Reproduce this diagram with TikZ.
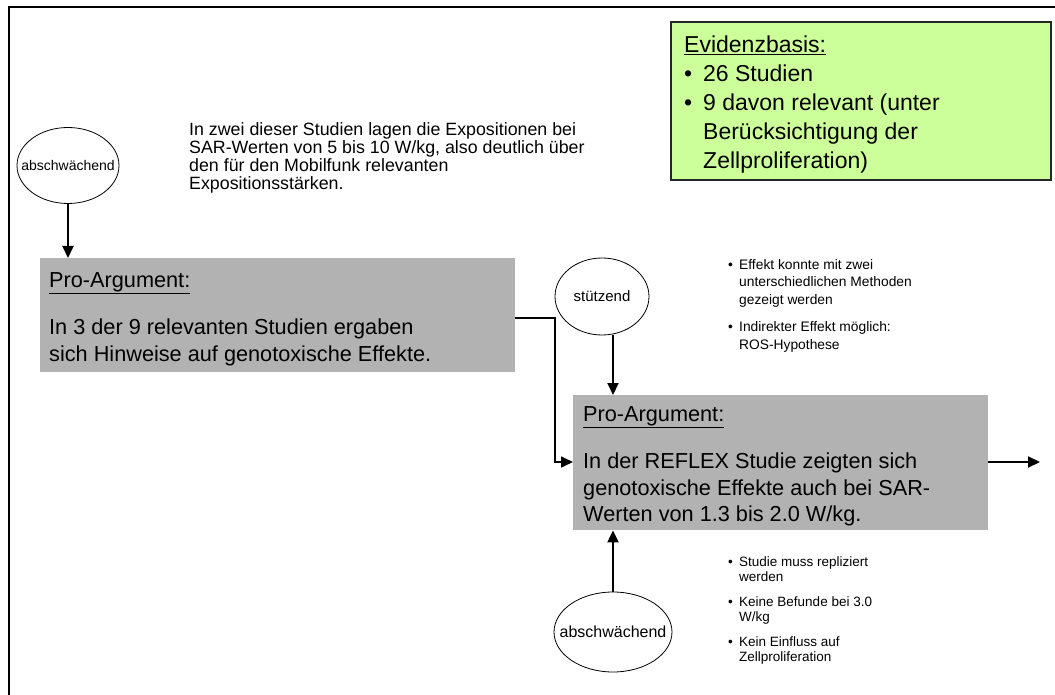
\documentclass[tikz,border=0pt]{standalone}
\usepackage{fontspec}
\setmainfont{Liberation Sans}
\usetikzlibrary{arrows.meta,shapes.geometric,calc}
\definecolor{boxgray}{RGB}{178,178,178}
\definecolor{evgreen}{RGB}{204,255,153}
\tikzset{
  graybox/.style={fill=boxgray, draw=none, inner sep=0, anchor=north west},
  argtext/.style={font=\fontsize{21.7}{26.5}\selectfont, align=left, inner sep=0, anchor=north west},
  oval/.style={ellipse, draw, line width=0.8pt, inner xsep=-40pt, inner ysep=0pt,
               font=\fontsize{15}{17}\selectfont},
  note/.style={font=\fontsize{17.8}{18}\selectfont, align=left, inner sep=0, anchor=north west},
  bullets/.style={font=\fontsize{13.8}{17.5}\selectfont, align=left, inner sep=0, anchor=north west},
  flow/.style={line width=2pt, -{Triangle[length=12pt,width=11pt]}},
}
\newcommand{\bul}{\makebox[11pt][l]{\textbullet}}
\newcommand{\ind}{\hspace*{11pt}}
\begin{document}
\begin{tikzpicture}[x=1pt,y=-1pt]
\useasboundingbox (0,0) rectangle (1055,695);

% outer frame (left and top edges)
\draw[line width=2.6pt] (9,695) -- (9,7) -- (1055,7);

% evidence box
\node[fill=evgreen, draw=black!85, line width=1.6pt, inner sep=0, anchor=north west,
      minimum width=380, minimum height=158] (evid) at (670,21) {};
\node[font=\fontsize{23}{29}\selectfont, align=left, inner sep=0, anchor=north west]
  (evidtext) at (684,36)
  {\underline{Evidenzbasis:}\\
   \makebox[19pt][l]{\textbullet}26 Studien\\
   \makebox[19pt][l]{\textbullet}9 davon relevant (unter\\
   \hspace*{19pt}Berücksichtigung der\\
   \hspace*{19pt}Zellproliferation)};

% first argument
\node[oval, minimum width=102, minimum height=76, font=\fontsize{14}{16}\selectfont]
  (weak1) at (68,165.5) {abschwächend};
\node[note] (weak1text) at (189,122)
  {In zwei dieser Studien lagen die Expositionen bei\\
   SAR-Werten von 5 bis 10 W/kg, also deutlich über\\
   den für den Mobilfunk relevanten\\
   Expositionsstärken.};
\node[graybox, minimum width=475, minimum height=114] (arg1) at (40,258) {};
\node[argtext] (arg1text) at (49,272)
  {\underline{Pro-Argument:}\\[21pt]
   In 3 der 9 relevanten Studien ergaben\\
   sich Hinweise auf genotoxische Effekte.};

% second argument
\node[graybox, minimum width=415, minimum height=135] (arg2) at (573,395) {};
\node[argtext] (arg2text) at (583,406)
  {\underline{Pro-Argument:}\\[21pt]
   In der REFLEX Studie zeigten sich\\
   genotoxische Effekte auch bei SAR-\\
   Werten von 1.3 bis 2.0 W/kg.};

\node[oval, minimum width=94, minimum height=77] (supp) at (602,296.5) {stützend};
\node[bullets] (supptext) at (728,259)
  {\bul Effekt konnte mit zwei\\
   \ind unterschiedlichen Methoden\\
   \ind gezeigt werden\\[10pt]
   \bul Indirekter Effekt möglich:\\
   \ind ROS-Hypothese};

\node[oval, minimum width=118, minimum height=80, font=\fontsize{16}{18}\selectfont]
  (weak2) at (613,632) {abschwächend};
\node[font=\fontsize{13.5}{15}\selectfont, align=left, inner sep=0, anchor=north west]
  (weak2text) at (728,557)
  {\bul Studie muss repliziert\\
   \ind werden\\[10pt]
   \bul Keine Befunde bei 3.0\\
   \ind W/kg\\[10pt]
   \bul Kein Einfluss auf\\
   \ind Zellproliferation};

% connectors
\coordinate (out) at (1040,462);
\coordinate (suppfoot) at (613,334.5);
\draw[flow] (weak1) -- (weak1 |- arg1.north);
\draw[flow] (suppfoot) -- (suppfoot |- arg2.north);
\draw[flow] (weak2.north) -- (weak2 |- arg2.south);
\draw[line width=1.6pt, -{Triangle[length=12pt,width=11pt]}]
  (arg1.east |- 0,318) -- (555,318) -- (555,462) -- (arg2.west |- 0,462);
\draw[flow] (arg2.east |- out) -- (out);
\end{tikzpicture}
\end{document}
